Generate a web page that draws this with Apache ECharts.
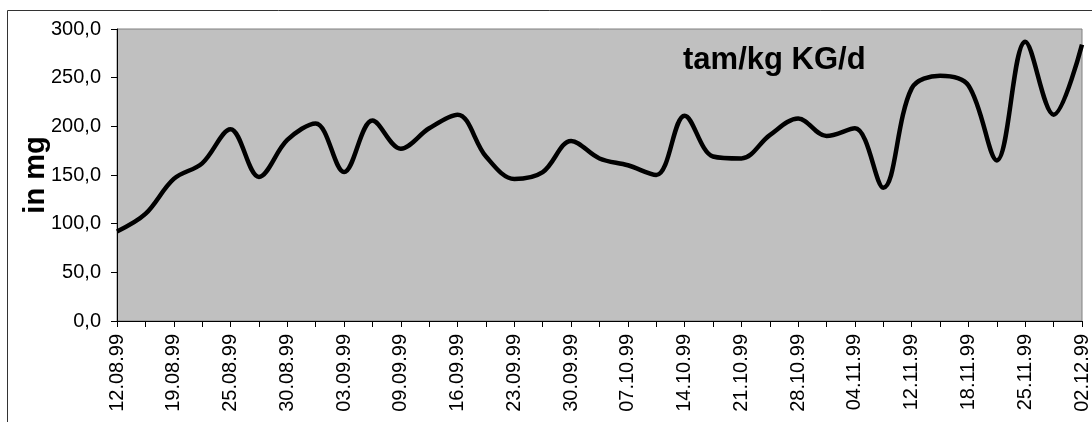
<!DOCTYPE html>
<html>
<head>
<meta charset="utf-8">
<script src="https://cdn.jsdelivr.net/npm/echarts@6/dist/echarts.min.js"></script>
<style>
html,body{margin:0;padding:0;background:#fff;}
#chart{width:1092px;height:422px;}
</style>
</head>
<body>
<div id="chart"></div>
<script>
// Categories (dates); every second one is labelled in the original
var categories = ['12.08.99','16.08.99','19.08.99','23.08.99','25.08.99','27.08.99','30.08.99','01.09.99','03.09.99','06.09.99',
  '09.09.99','13.09.99','16.09.99','20.09.99','23.09.99','27.09.99','30.09.99','04.10.99','07.10.99','11.10.99',
  '14.10.99','18.10.99','21.10.99','25.10.99','28.10.99','01.11.99','04.11.99','08.11.99','12.11.99','15.11.99',
  '18.11.99','22.11.99','25.11.99','29.11.99','02.12.99'];
// tam/kg KG/d, in mg
var values = [92, 110, 146, 162, 197, 148, 186, 203, 153, 206,
  177, 198, 212, 169, 146, 153, 185, 167, 160, 150,
  211, 169, 167, 191, 208, 190, 198, 137, 239, 252,
  242, 165, 287, 212, 284];
var seriesName = 'tam/kg KG/d';
var yAxisTitle = 'in mg';
var yTicks = [0, 50, 100, 150, 200, 250, 300];

var chart = echarts.init(document.getElementById('chart'), null, {renderer: 'canvas'});
var font = '"Liberation Sans", Arial, sans-serif';
chart.setOption({
  animation: false,
  backgroundColor: '#ffffff',
  grid: {left: 117, right: 7, top: 29, bottom: 101, show: true,
    backgroundColor: '#C0C0C0', borderColor: '#808080', borderWidth: 1},
  xAxis: {
    type: 'category', data: categories, boundaryGap: false,
    axisLine: {show: true, lineStyle: {color: '#000', width: 1}},
    axisTick: {show: true, interval: 0, length: 6, inside: false, lineStyle: {color: '#000'}},
    axisLabel: {interval: 1, rotate: 90, margin: 13, color: '#000', fontFamily: font, fontSize: 20},
    splitLine: {show: false}
  },
  yAxis: {
    type: 'value', min: yTicks[0], max: yTicks[yTicks.length-1], interval: 50,
    name: yAxisTitle, nameLocation: 'middle', nameRotate: 90, nameGap: 67,
    nameMoveOverlap: false,
    nameTextStyle: {fontFamily: font, fontSize: 29, fontWeight: 'bold', color: '#000'},
    axisLine: {show: true, lineStyle: {color: '#000', width: 1}},
    axisTick: {show: true, length: 6, lineStyle: {color: '#000'}},
    axisLabel: {margin: 16, color: '#000', fontFamily: font, fontSize: 20,
      formatter: function (v) { return v.toFixed(1).replace('.', ','); }},
    splitLine: {show: false}
  },
  graphic: [
    {type: 'polyline', silent: true, z: 100,
      shape: {points: [[7.5, 422], [7.5, 10.5], [1092, 10.5]]},
      style: {stroke: '#333', lineWidth: 1, fill: null}},
    {type: 'text', left: 683, top: 45, z: 100,
      style: {text: seriesName, fontFamily: font, fontSize: 31, fontWeight: 'bold', fill: '#000'}}
  ],
  series: [{
    name: seriesName, type: 'line', data: values, smooth: 0.35,
    symbol: 'none', lineStyle: {color: '#000', width: 4.5}
  }]
});
</script>
</body>
</html>
